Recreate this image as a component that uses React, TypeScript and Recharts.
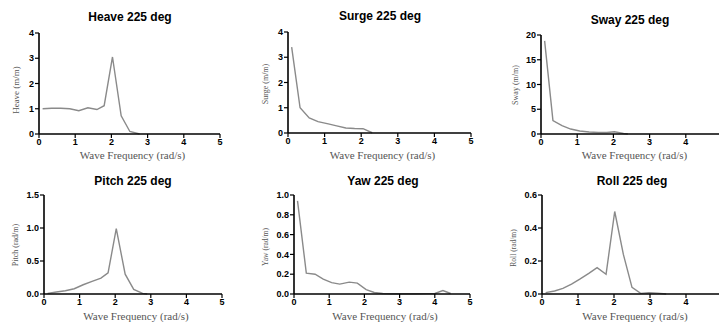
import React from "react";
import { LineChart, Line, XAxis, YAxis } from "recharts";

const xTicks = [0, 1, 2, 3, 4, 5];

const heaveFreq = [0.1, 0.35, 0.6, 0.85, 1.1, 1.35, 1.6, 1.8, 2.03, 2.27, 2.51, 2.78];
const heaveVal = [1.0, 1.02, 1.02, 1.0, 0.92, 1.04, 0.97, 1.12, 3.05, 0.72, 0.1, 0.0];

const surgeFreq = [0.1, 0.33, 0.58, 0.82, 1.1, 1.33, 1.58, 1.82, 2.05, 2.3];
const surgeVal = [3.4, 1.0, 0.6, 0.45, 0.36, 0.28, 0.2, 0.18, 0.17, 0.01];

const swayFreq = [0.1, 0.33, 0.58, 0.82, 1.07, 1.33, 1.58, 1.82, 2.03, 2.28, 2.4];
const swayVal = [18.8, 2.7, 1.7, 1.0, 0.6, 0.4, 0.3, 0.3, 0.45, 0.1, 0.0];

const pitchFreq = [0.1, 0.35, 0.6, 0.85, 1.1, 1.35, 1.6, 1.8, 2.03, 2.28, 2.52, 2.77, 2.9];
const pitchVal = [0.01, 0.03, 0.05, 0.08, 0.14, 0.19, 0.24, 0.32, 0.99, 0.3, 0.07, 0.01, 0.0];

const yawFreq = [0.1, 0.35, 0.6, 0.83, 1.07, 1.3, 1.57, 1.8, 2.05, 2.28, 2.52, 2.77, 3.0, 3.25, 3.5, 3.75, 4.0, 4.23, 4.45];
const yawVal = [0.94, 0.21, 0.2, 0.15, 0.115, 0.1, 0.12, 0.11, 0.045, 0.015, 0.005, 0.003, 0.003, 0.002, 0.003, 0.004, 0.005, 0.035, 0.005];

const rollFreq = [0.1, 0.35, 0.58, 0.82, 1.05, 1.3, 1.53, 1.78, 2.02, 2.26, 2.5, 2.74, 2.97, 3.2, 3.45];
const rollVal = [0.008, 0.018, 0.034, 0.06, 0.09, 0.125, 0.16, 0.12, 0.5, 0.24, 0.04, 0.004, 0.008, 0.005, 0.0];

const heaveTicks = [0, 1, 2, 3, 4];
const surgeTicks = [0, 1, 2, 3, 4];
const swayTicks = [0, 5, 10, 15, 20];
const pitchTicks = [0, 0.5, 1.0, 1.5];
const yawTicks = [0, 0.2, 0.4, 0.6, 0.8, 1.0];
const rollTicks = [0, 0.2, 0.4, 0.6];

const titles = ["Heave 225 deg", "Surge 225 deg", "Sway 225 deg", "Pitch 225 deg", "Yaw 225 deg", "Roll 225 deg"];
const yLabels = ["Heave (m/m)", "Surge (m/m)", "Sway (m/m)", "Pitch (rad/m)", "Yaw (rad/m)", "Roll (rad/m)"];
const xLabel = "Wave Frequency (rad/s)";

type PanelProps = {
  left: number;
  top: number;
  w: number;
  h: number;
  pl: number;
  pr: number;
  pt: number;
  pb: number;
  xs: number[];
  ys: number[];
  yTicks: number[];
  digits: number;
  title: string;
  titleX: number;
  titleY: number;
  yLabel: string;
  yLabelX: number;
  yLabelY: number;
  yLabelSize: number;
  xLabelY: number;
};

const tickStyle = { fill: "#000", fontSize: 9, fontWeight: 700, fontFamily: "Liberation Sans, Arial, sans-serif" };

function Panel(p: PanelProps) {
  const data = p.xs.map((x, i) => ({ x, y: p.ys[i] }));
  const yMax = p.yTicks[p.yTicks.length - 1];
  return (
    <>
      <div style={{ position: "absolute", left: p.left, top: p.top }}>
        <LineChart
          width={p.w}
          height={p.h}
          data={data}
          margin={{ top: p.pt, right: p.w - p.pr, left: 0, bottom: 0 }}
        >
          <XAxis
            dataKey="x"
            type="number"
            domain={[0, 5]}
            ticks={xTicks}
            height={p.h - p.pb}
            tickSize={4}
            tickMargin={1}
            axisLine={{ stroke: "#000", strokeWidth: 1.6 }}
            tickLine={{ stroke: "#000", strokeWidth: 1.2 }}
            tick={tickStyle}
            interval={0}
          />
          <YAxis
            type="number"
            domain={[0, yMax]}
            ticks={p.yTicks}
            width={p.pl}
            tickSize={4}
            tickMargin={1}
            axisLine={{ stroke: "#000", strokeWidth: 1.6 }}
            tickLine={{ stroke: "#000", strokeWidth: 1.2 }}
            tick={tickStyle}
            interval={0}
            tickFormatter={(v: number) => v.toFixed(p.digits)}
          />
          <Line
            type="linear"
            dataKey="y"
            stroke="#8a8a8a"
            strokeWidth={1.4}
            dot={false}
            isAnimationActive={false}
          />
        </LineChart>
      </div>
      <div
        style={{
          position: "absolute",
          left: p.left + p.titleX,
          top: p.top + p.titleY,
          transform: "translate(-50%, -50%)",
          whiteSpace: "nowrap",
          fontFamily: "Liberation Sans, Arial, sans-serif",
          fontWeight: 700,
          fontSize: 12,
          color: "#000",
        }}
      >
        {p.title}
      </div>
      <div
        style={{
          position: "absolute",
          left: p.left + p.yLabelX,
          top: p.top + p.yLabelY,
          transform: "translate(-50%, -50%) rotate(-90deg)",
          whiteSpace: "nowrap",
          fontFamily: "Liberation Serif, Times New Roman, serif",
          fontSize: p.yLabelSize,
          color: "#555",
        }}
      >
        {p.yLabel}
      </div>
      <div
        style={{
          position: "absolute",
          left: p.left + (p.pl + p.pr) / 2 + 3,
          top: p.top + p.xLabelY,
          transform: "translate(-50%, -50%)",
          whiteSpace: "nowrap",
          fontFamily: "Liberation Serif, Times New Roman, serif",
          fontSize: 11,
          color: "#555",
        }}
      >
        {xLabel}
      </div>
    </>
  );
}

export default function App() {
  return (
    <div
      style={{
        position: "absolute",
        left: 0,
        top: 0,
        width: 719,
        height: 322,
        overflow: "hidden",
        background: "#fff",
      }}
    >
      <Panel left={0} top={0} w={240} h={160} pl={39} pr={220} pt={33} pb={134}
        xs={heaveFreq} ys={heaveVal} yTicks={heaveTicks} digits={0}
        title={titles[0]} titleX={130} titleY={17}
        yLabel={yLabels[0]} yLabelX={16} yLabelY={90} yLabelSize={9} xLabelY={155} />
      <Panel left={240} top={0} w={240} h={160} pl={48} pr={231} pt={32} pb={133}
        xs={surgeFreq} ys={surgeVal} yTicks={surgeTicks} digits={0}
        title={titles[1]} titleX={140} titleY={16}
        yLabel={yLabels[1]} yLabelX={25} yLabelY={84} yLabelSize={8} xLabelY={155} />
      <Panel left={480} top={0} w={250} h={160} pl={61} pr={242} pt={35} pb={134}
        xs={swayFreq} ys={swayVal} yTicks={swayTicks} digits={0}
        title={titles[2]} titleX={150} titleY={20}
        yLabel={yLabels[2]} yLabelX={35} yLabelY={85} yLabelSize={8} xLabelY={155} />
      <Panel left={0} top={160} w={240} h={162} pl={44} pr={222} pt={35} pb={134}
        xs={pitchFreq} ys={pitchVal} yTicks={pitchTicks} digits={1}
        title={titles[3]} titleX={133} titleY={21}
        yLabel={yLabels[3]} yLabelX={15} yLabelY={85} yLabelSize={8} xLabelY={156} />
      <Panel left={240} top={160} w={240} h={162} pl={54} pr={230} pt={35} pb={134}
        xs={yawFreq} ys={yawVal} yTicks={yawTicks} digits={1}
        title={titles[4]} titleX={143} titleY={21}
        yLabel={yLabels[4]} yLabelX={25} yLabelY={87} yLabelSize={7.5} xLabelY={156} />
      <Panel left={480} top={160} w={250} h={162} pl={62} pr={242} pt={35} pb={134}
        xs={rollFreq} ys={rollVal} yTicks={rollTicks} digits={1}
        title={titles[5]} titleX={152} titleY={21}
        yLabel={yLabels[5]} yLabelX={33} yLabelY={88} yLabelSize={7.5} xLabelY={156} />
    </div>
  );
}
